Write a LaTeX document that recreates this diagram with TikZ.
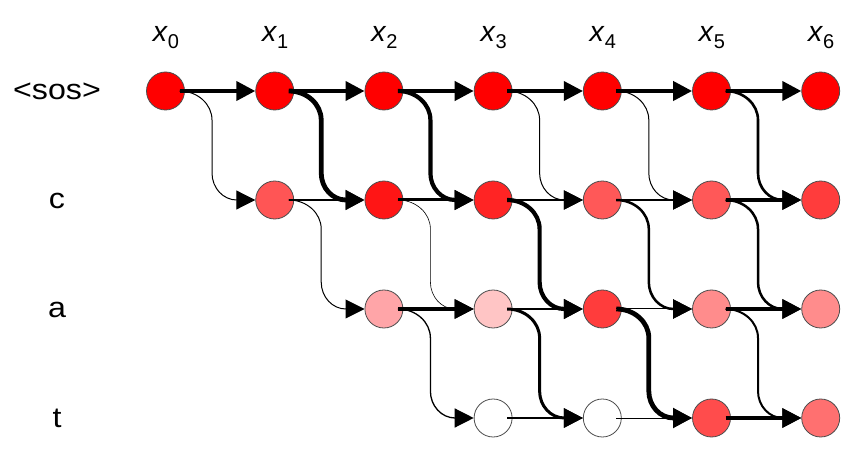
\documentclass[tikz,border=0pt]{standalone}
\usepackage{fontspec}
\setmainfont{Liberation Sans}
\usetikzlibrary{arrows.meta,calc}
\definecolor{cA}{HTML}{FF0000}
\definecolor{c11}{HTML}{FF5555}
\definecolor{c12}{HTML}{FF1515}
\definecolor{c13}{HTML}{FF2424}
\definecolor{c14}{HTML}{FF5858}
\definecolor{c15}{HTML}{FF5858}
\definecolor{c16}{HTML}{FF3C3C}
\definecolor{c22}{HTML}{FFA5A8}
\definecolor{c23}{HTML}{FFC5C5}
\definecolor{c24}{HTML}{FF3C3C}
\definecolor{c25}{HTML}{FF8C8C}
\definecolor{c26}{HTML}{FF8C8C}
\definecolor{c33}{HTML}{FFFFFF}
\definecolor{c34}{HTML}{FFFFFF}
\definecolor{c35}{HTML}{FF4C4C}
\definecolor{c36}{HTML}{FF7070}
\newcommand\hedge[3]{\draw[edge,line width=#3pt] ($(#1)+(14,0)$) -- (#2.west);}
\newcommand\dedge[3]{\draw[edge,line width=#3pt] ($(#1)+(14,0)$)
  .. controls +(18,0) and +(0,-16) .. ($(#1)+(46.5,29)$)
  -- ($(#2)+(-62.7,-27)$)
  .. controls +(0,15) and +(-13.5,0) .. ($(#2)+(-38,0)$) -- (#2.west);}
\newcommand\xlab[1]{\textit{x}\raisebox{-6.6pt}{\fontsize{20}{20}\selectfont #1}}
\newcommand\rlab[1]{\scalebox{1.13}[1]{#1}}
\begin{document}
\begin{tikzpicture}[x=1pt,y=-1pt,
  st/.style={circle,draw=black!70,line width=0.8pt,minimum size=38pt,inner sep=0pt},
  edge/.style={-{Triangle[length=19pt,width=19pt]}},
  lab/.style={anchor=base,inner sep=0pt,font=\fontsize{28.5}{30}\selectfont}]
\useasboundingbox (0,0) rectangle (868,462);
% column labels
\foreach \c in {0,...,6}{
  \node[lab] (x\c) at (166+109.2*\c,42) {\xlab{\c}};
}
% row labels
\node[lab] (rs) at (57,99.5) {\rlab{<sos>}};
\node[lab] (rc) at (57,209) {\rlab{c}};
\node[lab] (ra) at (57,318) {\rlab{a}};
\node[lab] (rt) at (57,428) {\rlab{t}};
% nodes
\foreach \c in {0,...,6}{
  \node[st,fill=cA] (n0\c) at (165.5+109.2*\c,91) {};
}
\foreach \c in {1,...,6}{
  \node[st,fill=c1\c] (n1\c) at (165.5+109.2*\c,200) {};
}
\foreach \c in {2,...,6}{
  \node[st,fill=c2\c] (n2\c) at (165.5+109.2*\c,309) {};
}
\foreach \c in {3,...,6}{
  \node[st,fill=c3\c] (n3\c) at (165.5+109.2*\c,418) {};
}
% row 0
\hedge{n00}{n01}{4}
\hedge{n01}{n02}{4}
\hedge{n02}{n03}{4}
\hedge{n03}{n04}{3.5}
\hedge{n04}{n05}{4}
\hedge{n05}{n06}{4}
\dedge{n00}{n11}{1}
\dedge{n01}{n12}{4.8}
\dedge{n02}{n13}{4.2}
\dedge{n03}{n14}{1}
\dedge{n04}{n15}{1}
\dedge{n05}{n16}{2.6}
% row 1
\hedge{n11}{n12}{2}
\hedge{n12}{n13}{3}
\hedge{n13}{n14}{2}
\hedge{n14}{n15}{1.2}
\hedge{n15}{n16}{3.5}
\dedge{n11}{n22}{1}
\dedge{n12}{n23}{0.6}
\dedge{n13}{n24}{4.2}
\dedge{n14}{n25}{2.5}
\dedge{n15}{n26}{2.5}
% row 2
\hedge{n22}{n23}{3.5}
\hedge{n23}{n24}{2.5}
\hedge{n24}{n25}{1}
\hedge{n25}{n26}{3.8}
\dedge{n22}{n33}{1.3}
\dedge{n23}{n34}{3}
\dedge{n24}{n35}{4.8}
\dedge{n25}{n36}{2}
% row 3
\hedge{n33}{n34}{2.5}
\hedge{n34}{n35}{1}
\hedge{n35}{n36}{3.5}
\end{tikzpicture}
\end{document}
